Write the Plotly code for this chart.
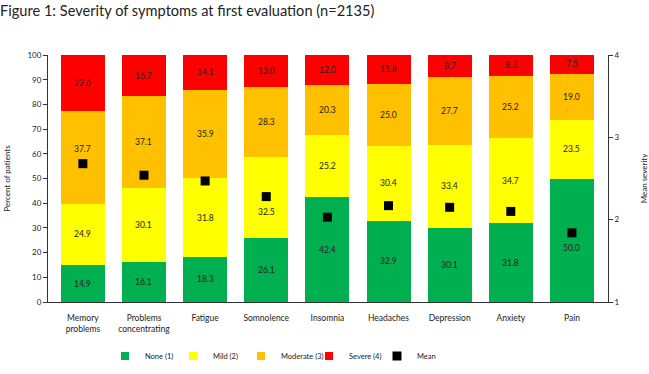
import plotly.graph_objects as go

categories = ["Memory<br>problems", "Problems<br>concentrating", "Fatigue", "Somnolence",
              "Insomnia", "Headaches", "Depression", "Anxiety", "Pain"]
none_vals = [14.9, 16.1, 18.3, 26.1, 42.4, 32.9, 30.1, 31.8, 50.0]
mild_vals = [24.9, 30.1, 31.8, 32.5, 25.2, 30.4, 33.4, 34.7, 23.5]
moderate_vals = [37.7, 37.1, 35.9, 28.3, 20.3, 25.0, 27.7, 25.2, 19.0]
severe_vals = [22.6, 16.7, 14.1, 13.0, 12.0, 11.8, 8.7, 8.3, 7.5]
mean_vals = [2.68, 2.54, 2.47, 2.28, 2.03, 2.17, 2.15, 2.10, 1.84]

FONT = "Lato"
TXT = "#222222"
x_idx = list(range(len(categories)))

W, H = 649, 374
M = dict(l=48, r=41, t=55, b=72, autoexpand=False)
plot_h = H - M["t"] - M["b"]
plot_w = W - M["l"] - M["r"]
px_per_pct = plot_h / 100.0

series = [
    ("None (1)", none_vals, "#00B050"),
    ("Mild (2)", mild_vals, "#FFFF00"),
    ("Moderate (3)", moderate_vals, "#FFC000"),
    ("Severe (4)", severe_vals, "#FF0000"),
]

fig = go.Figure()
annotations = []
base = [0.0] * len(categories)
for name, vals, color in series:
    fig.add_trace(go.Bar(
        x=x_idx, y=vals, name=name, marker=dict(color=color, line=dict(width=0)),
        width=0.72, hoverinfo="skip", showlegend=False, legendgroup=name,
    ))
    for i, v in enumerate(vals):
        center = base[i] + v / 2.0
        marker_pct = (mean_vals[i] - 1) / 3.0 * 100.0
        d = (center - marker_pct) * px_per_pct
        shift = 0
        gap = 15
        if abs(d) < gap:
            sign = 1 if d > 0 else -1
            shift = sign * (gap - abs(d))
        annotations.append(dict(
            x=i, y=center, xref="x", yref="y", text=f"{v:.1f}", showarrow=False,
            yshift=shift, font=dict(family=FONT, size=8.5, color=TXT),
        ))
        base[i] += v

# legend entries with small square symbols, as in the reference
for name, vals, color in series:
    fig.add_trace(go.Scatter(
        x=[None], y=[None], name=name, mode="markers", legendgroup=name,
        marker=dict(symbol="square", size=8, color=color),
    ))

fig.add_trace(go.Scatter(
    x=x_idx, y=mean_vals, name="Mean", mode="markers", yaxis="y2",
    marker=dict(symbol="square", size=9, color="black"),
))

fig.update_layout(
    width=W, height=H,
    margin=M,
    barmode="stack",
    plot_bgcolor="white", paper_bgcolor="white",
    font=dict(family=FONT, size=8, color=TXT),
    title=dict(text="Figure 1: Severity of symptoms at first evaluation (n=2135)",
               x=0.0, xref="container", xanchor="left", y=1 - 11 / H, yref="container",
               yanchor="middle",
               font=dict(family=FONT, size=14.6, color=TXT)),
    annotations=annotations,
    xaxis=dict(range=[-0.57, 8.59], tickmode="array", tickvals=x_idx, ticktext=categories,
               showline=True, linecolor="#333333", linewidth=1, ticks="", showgrid=False,
               zeroline=False, tickfont=dict(size=8.5), ticklabelstandoff=8, automargin=False),
    yaxis=dict(range=[0, 100], dtick=10, showline=True, linecolor="#333333", linewidth=1,
               ticks="outside", ticklen=4, tickcolor="#333333", showgrid=False, zeroline=False,
               automargin=False, tickfont=dict(size=8),
               title=dict(text="Percent of patients", font=dict(size=8), standoff=15)),
    yaxis2=dict(range=[1, 4], dtick=1, overlaying="y", side="right", showline=True,
                linecolor="#333333", linewidth=1, ticks="outside", ticklen=4, tickcolor="#333333",
                showgrid=False, zeroline=False, automargin=False, tickfont=dict(size=8),
                title=dict(text="Mean severity", font=dict(size=8), standoff=22)),
    legend=dict(orientation="h", x=(105 - M["l"]) / plot_w, xanchor="left", y=-0.219,
                yanchor="middle", traceorder="normal", font=dict(size=7.5), itemwidth=30,
                entrywidth=23, entrywidthmode="pixels"),
    showlegend=True,
)

fig.write_html("out.html", config={"displayModeBar": False},
               post_script="document.body.style.margin='0';")
